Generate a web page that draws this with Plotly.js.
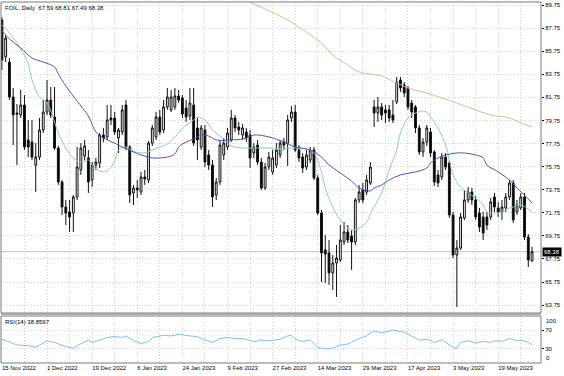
<!DOCTYPE html>
<html>
<head>
<meta charset="utf-8">
<script src="https://cdn.plot.ly/plotly-3.0.1.min.js"></script>
<style>html,body{margin:0;padding:0;background:#fff;}#chart{width:564px;height:376px;}</style>
</head>
<body>
<div id="chart"></div>
<script>
// ---- Daily OHLC (bar order, left to right) ----
const barOpen = [88.45,85.25,84.81,81.78,80.39,80.22,81.09,78.06,77.88,75.89,76.58,78.92,80.48,81.52,80.05,77.36,74.42,72.25,71.82,71.73,73.12,75.46,76.67,76.5,74.59,75.89,76.07,78.49,78.32,79.96,79.96,78.23,78.75,81.09,77.45,73.47,73.9,73.55,74.85,74.59,77.79,78.32,80.05,78.92,80.92,80.66,80.92,81.87,81.7,80.83,80.13,81.09,79.1,77.45,78.92,76.76,75.89,73.29,74.42,76.76,77.45,78.06,79.96,79.18,78.49,78.75,78.49,76.93,77.62,76.15,73.9,75.72,75.29,75.89,76.76,77.88,77.79,79.96,80.48,77.19,76.58,75.72,76.32,77.19,74.77,71.73,68.53,68.27,66.54,67.4,67.66,69.22,70.09,69.74,69.22,72.86,73.73,73.55,74.33,80.92,80.39,80.92,80.66,80.66,80.22,81.35,83.25,82.82,82.56,81.26,80.92,79.1,77.02,77.88,78.75,77.02,75.03,74.85,76.58,76.07,71.56,68.09,68.7,71.3,72.86,73.55,72.86,71.73,71.39,71.39,71.39,73.12,72.17,71.82,72.17,73.12,74.33,71.82,72.17,73.12,69.65,67.59];
const barHigh = [88.71,87.15,85.16,82.56,81.18,82.39,81.95,79.79,79.79,77.79,79.96,81.52,83.25,82.65,82.65,77.54,74.59,72.86,72.86,73.29,77.45,77.79,78.06,77.19,76.15,76.5,78.66,79.1,81.09,81.09,80.48,79.1,81.09,81.52,77.62,74.16,74.59,75.29,75.46,77.97,79.36,80.48,80.66,81.52,82.56,82.39,82.56,82.39,81.95,81.52,82.56,82.56,79.96,79.36,79.36,77.19,76.32,74.77,78.06,78.23,79.1,80.66,80.22,79.62,79.44,79.1,78.92,77.79,78.06,76.5,76.07,77.02,77.19,77.79,78.06,78.23,80.22,81.0,81.09,77.62,76.93,77.19,77.45,77.45,75.03,71.99,69.83,69.39,68.09,68.96,70.69,70.95,70.69,70.26,73.03,74.16,74.33,75.03,76.15,81.52,81.78,81.26,81.09,81.09,81.52,83.51,83.51,83.08,82.73,81.52,81.09,79.36,78.23,79.36,79.1,77.19,75.46,76.93,76.93,76.32,71.82,69.39,71.73,73.73,73.99,73.9,73.21,72.17,71.82,71.82,73.03,73.47,72.69,72.86,73.47,74.59,74.59,72.86,73.47,73.47,69.91,68.81];
const barLow = [84.12,84.81,81.52,77.62,75.89,79.96,77.19,76.58,76.32,73.55,76.32,78.66,80.22,79.96,77.19,74.16,71.56,70.69,70.09,70.09,72.86,75.03,76.32,73.47,73.99,75.46,75.63,77.88,78.06,79.36,78.49,76.93,78.49,77.19,72.6,72.43,73.03,73.29,74.16,74.33,77.54,78.06,78.49,78.66,80.66,80.48,80.66,81.26,79.96,79.62,79.79,77.54,76.32,77.19,75.72,75.46,72.25,72.86,74.16,76.32,77.19,77.88,78.75,78.49,78.06,77.88,75.63,76.5,75.89,73.73,73.73,75.46,75.03,75.63,76.5,77.19,75.8,79.62,77.02,76.15,75.2,75.46,76.07,74.59,71.56,65.76,65.67,65.5,65.06,64.46,67.49,68.96,69.13,66.8,68.96,72.6,72.6,73.29,74.16,79.18,79.62,79.79,79.53,79.62,79.53,81.18,82.21,81.78,80.66,79.96,78.66,76.76,76.58,77.54,76.58,74.07,73.99,74.59,75.46,71.3,67.83,63.59,68.53,71.13,72.6,72.43,71.13,70.09,69.39,70.26,71.13,71.82,71.39,71.13,71.82,72.86,70.87,71.56,71.99,69.39,67.06,67.49];
const barClose = [84.99,86.89,81.78,80.22,80.3,81.09,77.45,77.45,76.58,76.58,78.92,80.48,81.52,80.22,77.36,74.42,72.25,71.73,71.39,73.12,75.72,77.36,77.54,74.42,75.89,76.15,78.49,78.23,79.79,79.79,78.75,78.92,80.66,77.36,73.29,73.9,73.73,74.85,74.68,77.79,79.1,80.05,78.75,80.92,81.78,81.78,81.87,81.52,80.31,80.05,81.26,77.79,78.06,79.1,76.15,75.89,73.12,74.42,77.62,77.79,78.66,79.96,79.1,78.92,79.1,78.23,76.5,77.45,76.15,73.9,75.72,76.58,76.5,77.19,77.79,77.62,79.79,80.48,77.19,76.5,75.63,76.76,77.19,74.77,71.73,68.27,68.18,66.54,67.4,67.83,69.39,70.09,69.39,69.22,72.86,73.55,72.86,74.59,75.72,80.39,80.92,80.22,80.39,79.96,79.79,83.08,82.56,82.13,80.92,80.48,79.1,77.02,77.88,79.1,76.93,74.42,74.33,76.58,75.72,71.56,68.09,68.7,71.39,72.86,73.55,72.86,71.39,70.52,70.0,70.69,72.69,72.25,71.82,72.25,73.12,74.33,71.13,72.43,73.12,69.65,67.66,68.38];

// ---- Moving averages, read at sampled bars ----
const maFastBar = [0,2,5,7,8,10,12,14,15,17,19,21,23,24,26,28,30,31,33,35,37,39,40,42,44,46,47,49,51,52,54,56,59,61,65,67,71,74,77,81,83,85,86,88,90,92,93,95,97,98,100,101,103,105,106,108,110,112,113,114,116,118,119,120,122,124,126,128,129,131,133,135,136,138,140,141];
const maFastVal = [88.02,87.33,85.94,84.64,83.25,81.78,81.26,79.62,78.66,77.36,76.5,76.15,76.32,75.89,75.37,75.37,76.24,77.19,77.45,77.1,76.93,77.02,77.19,77.45,77.71,78.32,78.66,79.36,79.79,80.05,79.79,78.92,78.14,77.54,77.36,77.36,77.36,77.28,77.36,77.28,76.93,75.29,73.9,72.25,71.13,70.43,70.26,70.43,70.95,71.65,72.86,73.47,75.46,77.19,78.66,79.96,80.39,80.57,80.48,80.05,79.1,77.62,76.32,75.03,73.99,73.47,73.03,72.43,71.82,71.73,71.82,72.17,72.25,72.43,72.08,71.82];
const maMidBar = [0,2,5,8,11,14,15,17,20,23,25,27,30,32,35,37,39,40,42,44,46,47,49,51,53,55,57,61,64,67,71,75,78,82,85,87,90,93,95,98,99,101,103,106,110,113,114,116,118,121,123,126,128,129,132,135,137,139,141];
const maMidVal = [87.5,86.81,86.03,85.16,84.81,84.38,83.77,82.73,81.43,80.13,78.75,78.23,77.79,77.45,77.02,76.76,76.58,76.5,76.5,76.58,76.85,77.45,77.88,78.14,78.49,78.4,78.06,78.06,78.14,78.49,78.32,77.88,77.45,77.19,76.58,75.89,75.2,74.5,73.9,73.64,73.9,74.16,74.59,75.03,75.29,75.63,76.07,76.5,76.76,76.93,76.93,76.76,76.5,75.89,75.29,74.59,73.9,73.29,72.6];
const maSlowBar = [64,66,70,76,81,85,88,92,95,98,101,105,108,113,117,121,126,130,135,138,141];
const maSlowVal = [90.44,90.01,89.4,88.45,87.41,86.46,85.42,84.55,83.95,83.77,83.6,83.0,82.56,82.13,81.7,81.26,80.66,80.22,79.96,79.53,79.18];

// ---- RSI(14), read at sampled bars ----
const rsiBar = [0,2,4,7,9,12,14,17,19,20,23,24,26,28,30,32,33,35,37,39,40,43,45,47,50,52,54,56,58,60,62,65,67,69,71,74,76,77,78,80,82,84,86,88,90,92,93,95,97,99,100,101,103,104,107,109,111,113,115,117,120,121,122,124,126,128,130,131,133,135,137,138,140,141];
const rsiVal = [50.7,43.8,38.3,36.9,33.5,47.3,43.8,34.8,31.4,36.9,48.6,43.8,48.6,54.2,56.2,54.2,57.6,47.3,41.7,45.2,54.2,59,57.6,61,57.6,56.2,49.3,43.8,52.1,54.2,52.1,50.7,45.2,49.3,47.3,50.7,57.6,59,50.7,45.9,49.3,33.5,30,31.4,38.3,40.4,43.8,52.1,57.6,68,65.9,64.5,68,70,65.9,57.6,48.6,50.7,43.8,49.3,33.5,31.4,43.8,47.3,42.4,45.9,43.8,47.3,45.9,52.1,47.3,48.6,43.8,38.8597];

// ---- Axis labels ----
const dateLabelBar = [0,12,24,36,48,60,72,84,96,108,120,132];
const dateLabelText = ['15 Nov 2022','1 Dec 2022','19 Dec 2022','6 Jan 2023','24 Jan 2023','9 Feb 2023','27 Feb 2023','14 Mar 2023','29 Mar 2023','17 Apr 2023','3 May 2023','19 May 2023'];
const gridStepBars = 6;
const priceTickText = ['63.75','65.75','67.75','69.75','71.75','73.75','75.75','77.75','79.75','81.75','83.75','85.75','87.75','89.75'];
const rsiLevels = [30,70];
const symbolTitle = 'FOIL.,Daily';
const rsiTitle = 'RSI(14)';

// ---- build ----
const barIdx = barClose.map((_, i) => i);
const gridBars = [], gridText = [];
for (let b = 0; b < barClose.length; b += gridStepBars) {
  gridBars.push(b);
  const j = dateLabelBar.indexOf(b);
  gridText.push(j >= 0 ? dateLabelText[j] : '');
}
const last = barClose.length - 1;
const lastClose = barClose[last];
const fmt = v => v.toFixed(2);
const titleText = symbolTitle + '  ' + fmt(barOpen[last]) + ' ' + fmt(barHigh[last]) + ' ' + fmt(barLow[last]) + ' ' + fmt(lastClose);
const rsiText = rsiTitle + ' ' + rsiVal[rsiVal.length - 1].toFixed(4);

const FONT = 'Liberation Sans, Arial, sans-serif';
const GRID = '#cfcfcf';
const GRIDDASH = '1px,2px';
const mainDomain = [0.1385, 1];
const rsiDomain = [0, 0.1302];

const traces = [
  {type:'candlestick', x:barIdx, open:barOpen, high:barHigh, low:barLow, close:barClose,
   xaxis:'x', yaxis:'y', whiskerwidth:0, hoverinfo:'skip',
   increasing:{line:{color:'#111', width:1}, fillcolor:'#ffffff'},
   decreasing:{line:{color:'#111', width:1}, fillcolor:'#000000'}},
  {type:'scatter', mode:'lines', x:maSlowBar, y:maSlowVal, xaxis:'x', yaxis:'y', line:{color:'#d9b98f', width:1, shape:'spline'}, hoverinfo:'skip'},
  {type:'scatter', mode:'lines', x:maFastBar, y:maFastVal, xaxis:'x', yaxis:'y', line:{color:'#8fcdb2', width:1, shape:'spline'}, hoverinfo:'skip'},
  {type:'scatter', mode:'lines', x:maMidBar, y:maMidVal, xaxis:'x', yaxis:'y', line:{color:'#5353b0', width:1, shape:'spline'}, hoverinfo:'skip'},
  {type:'scatter', mode:'lines', x:rsiBar, y:rsiVal, xaxis:'x', yaxis:'y2', line:{color:'#7cc0ea', width:1}, hoverinfo:'skip'}
];

const layout = {
  width:564, height:376,
  margin:{l:1, r:23, t:2, b:13, pad:0},
  paper_bgcolor:'#ffffff', plot_bgcolor:'#ffffff',
  showlegend:false,
  font:{family:FONT, size:6, color:'#000'},
  xaxis:{anchor:'y2', domain:[0,1], range:[-0.24, 143.38], type:'linear',
    tickmode:'array', tickvals:gridBars, ticktext:gridText,
    ticklabelposition:'outside right', ticks:'', tickfont:{size:6, color:'#000', family:FONT},
    showgrid:true, gridcolor:GRID, griddash:GRIDDASH, gridwidth:1,
    zeroline:false, showline:false, rangeslider:{visible:false}, fixedrange:true},
  yaxis:{domain:mainDomain, anchor:'x', side:'right', range:[63.07, 90.01],
    tickmode:'array', tickvals:priceTickText.map(Number), ticktext:priceTickText,
    ticks:'outside', ticklen:2, tickcolor:'#000', tickfont:{size:6, color:'#000', family:FONT},
    showgrid:true, gridcolor:GRID, griddash:GRIDDASH, gridwidth:1,
    zeroline:false, showline:false, fixedrange:true},
  yaxis2:{domain:rsiDomain, anchor:'x', side:'right', range:[0,100],
    tickmode:'array', tickvals:rsiLevels, ticktext:rsiLevels.map(String),
    ticks:'outside', ticklen:2, tickcolor:'#000', tickfont:{size:6, color:'#000', family:FONT},
    showgrid:true, gridcolor:GRID, griddash:GRIDDASH, gridwidth:1,
    zeroline:false, showline:false, fixedrange:true},
  shapes:[
    {type:'line', xref:'paper', yref:'y', x0:0, x1:1, y0:lastClose, y1:lastClose, line:{color:'#c0c0c0', width:1}, layer:'below'},
    {type:'rect', xref:'paper', yref:'paper', x0:0, x1:1, y0:mainDomain[0], y1:mainDomain[1], line:{color:'#7a7a7a', width:1}},
    {type:'rect', xref:'paper', yref:'paper', x0:0, x1:1, y0:rsiDomain[0], y1:rsiDomain[1], line:{color:'#7a7a7a', width:1}},
    {type:'line', xref:'paper', yref:'paper', x0:0, x1:1, y0:mainDomain[0]-0.003, y1:mainDomain[0]-0.003, line:{color:'#7a7a7a', width:1}}
  ],
  annotations:[
    {xref:'paper', yref:'paper', x:0, y:1, xanchor:'left', yanchor:'top', xshift:2, yshift:-1, text:titleText, showarrow:false, font:{size:6, color:'#000', family:FONT}},
    {xref:'paper', yref:'y2', x:0, y:100, xanchor:'left', yanchor:'top', xshift:2, yshift:-1, text:rsiText, showarrow:false, font:{size:6, color:'#000', family:FONT}},
    {xref:'paper', yref:'y', x:1, y:lastClose, xanchor:'left', yanchor:'middle', xshift:1, text:fmt(lastClose), showarrow:false, bgcolor:'#000', borderpad:1, font:{size:6, color:'#fff', family:FONT}},
    {xref:'paper', yref:'y2', x:1, y:100, xanchor:'left', yanchor:'top', xshift:3, text:'100', showarrow:false, font:{size:6, color:'#000', family:FONT}},
    {xref:'paper', yref:'y2', x:1, y:0, xanchor:'left', yanchor:'bottom', xshift:3, text:'0', showarrow:false, font:{size:6, color:'#000', family:FONT}}
  ]
};

Plotly.newPlot('chart', traces, layout, {staticPlot:true, displayModeBar:false});
</script>
</body>
</html>
